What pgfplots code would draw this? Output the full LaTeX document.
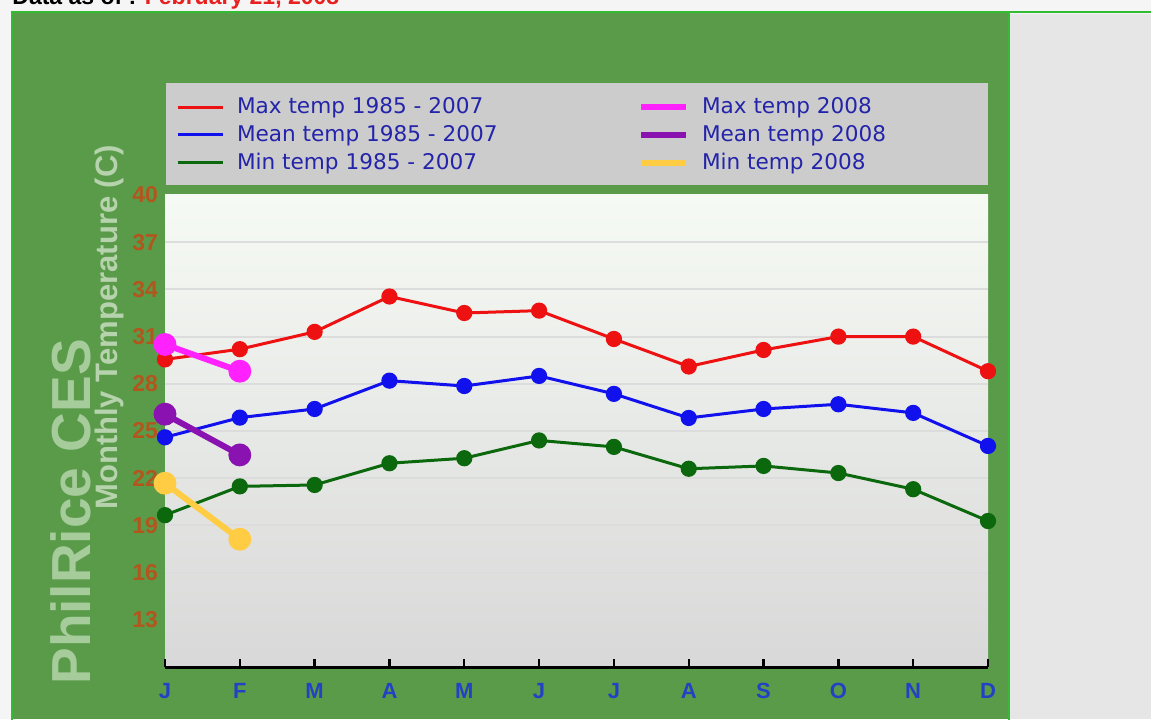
\documentclass[border=0pt]{standalone}
\usepackage{pgfplots}
\pgfplotsset{compat=1.18}
\usepackage{fontspec}
\setmainfont{Liberation Sans}
\newfontfamily\dejavu{DejaVu Sans}
\definecolor{outer}{HTML}{F5F5F5}
\definecolor{panel}{HTML}{5A9B4A}
\definecolor{border}{HTML}{33BB33}
\definecolor{rightgray}{HTML}{E6E6E6}
\definecolor{leggray}{HTML}{CCCCCC}
\definecolor{datared}{HTML}{E82020}
\definecolor{philgreen}{HTML}{A6CC9C}
\definecolor{monthgreen}{HTML}{B6D3AD}
\definecolor{tickbrown}{HTML}{B2561E}
\definecolor{tickblue}{HTML}{2440C4}
\definecolor{legblue}{HTML}{2424AA}
\definecolor{gridgray}{HTML}{DCDCDC}
\definecolor{plottop}{HTML}{F6FAF4}
\definecolor{plotbot}{HTML}{D8D8D8}
\definecolor{maxred}{HTML}{EE1111}
\definecolor{meanblue}{HTML}{1111EE}
\definecolor{mingreen}{HTML}{0C680C}
\definecolor{maxmag}{HTML}{FF22FF}
\definecolor{meanpur}{HTML}{8A12B0}
\definecolor{minyel}{HTML}{FFCC44}

\pgfplotstableread{
x max85 mean85 min85
0 29.55 24.6 19.65
1 30.2 25.85 21.48
2 31.3 26.4 21.57
3 33.55 28.2 22.95
4 32.5 27.86 23.27
5 32.65 28.5 24.4
6 30.85 27.36 23.99
7 29.1 25.83 22.6
8 30.15 26.4 22.78
9 31.0 26.7 22.33
10 31.0 26.15 21.3
11 28.8 24.05 19.28
}\hist

\pgfplotstableread{
x max08 mean08 min08
0 30.5 26.07 21.68
1 28.8 23.48 18.12
}\cur

\begin{document}
\begin{tikzpicture}
\useasboundingbox (0,0) rectangle (575.5pt,359.5pt);
\clip (0,0) rectangle (575.5pt,359.5pt);
\fill[outer] (0,0) rectangle (575.5pt,359.5pt);
\fill[panel] (6pt,0) rectangle (504pt,353.5pt);
\fill[rightgray] (505pt,0) rectangle (575.5pt,352.5pt);
\draw[border, line width=1.2pt] (6pt,-2pt) -- (6pt,353.5pt) -- (580pt,353.5pt);
\draw[border, line width=1pt] (504.5pt,-2pt) -- (504.5pt,353.5pt);
\fill[leggray] (83pt,267pt) rectangle (494pt,318pt);
\node[anchor=base west, inner sep=0pt, font=\fontsize{11.5}{13}\selectfont\bfseries] at (6pt,357pt) {Data as of : \textcolor{datared}{February 21, 2008}};
\node[rotate=90, anchor=base west, inner sep=0pt, text=philgreen, font=\fontsize{27.5}{30}\selectfont\bfseries] at (45pt,17pt) {PhilRice CES};
\node[rotate=90, anchor=base west, inner sep=0pt, text=monthgreen, font=\fontsize{15.5}{17}\selectfont\bfseries] at (58.5pt,104.5pt) {Monthly Temperature (C)};
\begin{axis}[
  at={(82.5pt,26pt)}, anchor=south west,
  scale only axis, width=411.5pt, height=236pt,
  xmin=0, xmax=11, ymin=10, ymax=40,
  xtick={0,...,11}, xticklabels={J,F,M,A,M,J,J,A,S,O,N,D},
  ytick={13,16,...,37},
  extra y ticks={40}, extra y tick style={grid=none},
  ymajorgrids, grid style={gridgray, line width=1pt},
  axis line style={draw=none},
  tick pos=left,
  tick align=inside,
  major tick length=4pt,
  xtick style={black, line width=1.2pt},
  ytick style={draw=none},
  yticklabel style={text=tickbrown, font=\fontsize{11.5}{13}\selectfont\bfseries},
  xticklabel style={text=tickblue, font=\fontsize{11}{13}\selectfont\bfseries, yshift=-4.5pt},
  /pgf/number format/assume math mode=true,
  axis background/.style={top color=plottop, bottom color=plotbot},
  clip=false,
  legend columns=2,
  legend cell align=left,
  legend image code/.code={\draw[#1] (0pt,0pt) -- (22.5pt,0pt);},
  legend style={draw=none, fill=none, at={(0.01337,1.2065)}, anchor=north west,
    inner sep=0pt, outer sep=0pt,
    nodes={inner sep=0pt, text=legblue, font=\dejavu\fontsize{10.8}{13}\selectfont},
    row sep=4.4pt, column sep=0pt,
    /tikz/every odd column/.append style={column sep=6.5pt}},
  after end axis/.code={\draw[black, line width=1.5pt] (rel axis cs:0,0) -- (rel axis cs:1,0);},
]
\addplot[maxred, line width=1.5pt, mark=*, mark size=3.3pt] table[x=x, y=max85] {\hist};
\addlegendentry{\makebox[200.5pt][l]{Max temp 1985 - 2007}}
\addplot[maxmag, line width=3pt, mark=*, mark size=4.2pt] table[x=x, y=max08] {\cur};
\addlegendentry{Max temp 2008}
\addplot[meanblue, line width=1.5pt, mark=*, mark size=3.3pt] table[x=x, y=mean85] {\hist};
\addlegendentry{\makebox[200.5pt][l]{Mean temp 1985 - 2007}}
\addplot[meanpur, line width=3pt, mark=*, mark size=4.2pt] table[x=x, y=mean08] {\cur};
\addlegendentry{Mean temp 2008}
\addplot[mingreen, line width=1.5pt, mark=*, mark size=3.3pt] table[x=x, y=min85] {\hist};
\addlegendentry{\makebox[200.5pt][l]{Min temp 1985 - 2007}}
\addplot[minyel, line width=3pt, mark=*, mark size=4.2pt] table[x=x, y=min08] {\cur};
\addlegendentry{Min temp 2008}
\end{axis}
\end{tikzpicture}
\end{document}
